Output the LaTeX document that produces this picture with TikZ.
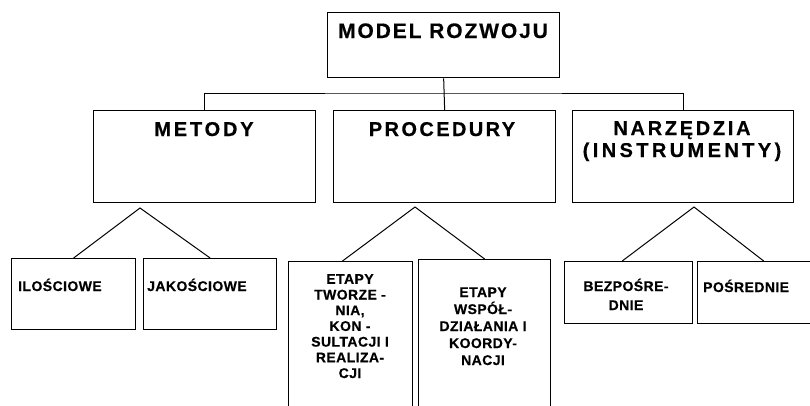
\documentclass[tikz,border=0pt]{standalone}
\usepackage{fontspec}
\setmainfont{Liberation Sans}
\newfontfamily\headfont[LetterSpace=12,FakeBold=0.4]{Liberation Sans Bold}
\newfontfamily\itemfont[LetterSpace=3,FakeBold=0.4]{Liberation Sans Bold}
\usetikzlibrary{calc}
\begin{document}
\begin{tikzpicture}[x=1pt,y=-1pt,
  box/.style={draw=black, line width=1.3pt, rectangle, anchor=north west, inner sep=0pt},
  link/.style={draw=black, line width=1pt},
  head/.style={font=\headfont\fontsize{20}{22}\selectfont, inner sep=0pt, anchor=base, align=center},
  item/.style={font=\itemfont\fontsize{14}{15.7}\selectfont, inner sep=0pt, anchor=base, align=center}
]
\clip (0,0) rectangle (810,405);
\fill[white] (0,0) rectangle (810,405);

% boxes
\node[box, minimum width=232pt, minimum height=65pt] (top) at (327,12) {};
\node[box, minimum width=222pt, minimum height=92pt] (metody) at (93,110) {};
\node[box, minimum width=222pt, minimum height=92pt] (proc) at (333,110) {};
\node[box, minimum width=221pt, minimum height=92pt] (narz) at (572,110) {};
\node[box, minimum width=124pt, minimum height=71pt] (ilo) at (11,258) {};
\node[box, minimum width=133pt, minimum height=71pt] (jako) at (143,258) {};
\node[box, minimum width=124pt, minimum height=160pt] (etw) at (288,261) {};
\node[box, minimum width=132pt, minimum height=162pt] (ewsp) at (418,259) {};
\node[box, minimum width=128pt, minimum height=62pt] (bez) at (564,261) {};
\node[box, minimum width=132pt, minimum height=62pt] (pos) at (697,261) {};

% labels (multi-line labels are placed by the baseline of their last line)
\node[head, font=\headfont\addfontfeature{LetterSpace=9}\fontsize{21}{22}\selectfont] (topT) at (443,38) {MODEL ROZWOJU};
\node[head, font=\headfont\addfontfeature{LetterSpace=14}\fontsize{20}{22}\selectfont] (metodyT) at (204,136) {METODY};
\node[head] (procT) at (442,136) {PROCEDURY};
\node[head] (narzT) at (682,157) {{\addfontfeature{LetterSpace=13.5}NARZĘDZIA}\\{\addfontfeature{LetterSpace=17}(INSTRUMENTY)}};
\node[item, anchor=base west] (iloT) at (18,291) {ILOŚCIOWE};
\node[item, anchor=base west] (jakoT) at (147,291) {JAKOŚCIOWE};
\node[item] (etwT) at (350,378) {ETAPY\\TWORZE -\\NIA,\\KON -\\SULTACJI I\\REALIZA-\\CJI};
\node[item, font=\itemfont\fontsize{14}{17}\selectfont] (ewspT) at (483,365) {ETAPY\\WSPÓŁ-\\DZIAŁANIA I\\KOORDY-\\NACJI};
\node[item, font=\itemfont\fontsize{14}{19}\selectfont] (bezT) at (626,310) {BEZPOŚRE-\\DNIE};
\node[item, anchor=base west] (posT) at (703,292) {POŚREDNIE};

% tree connectors
\coordinate (split) at (443,93);
\draw[link] (top.south) -- (proc.north);
\draw[link] (metody.north) |- (split) -| (narz.north);

\coordinate (mApex) at (140,208);
\coordinate (pApex) at (415,207);
\coordinate (nApex) at (694,207);
\draw[link] (ilo.north) -- (mApex) -- (jako.north);
\draw[link] ($(etw.north west)!0.435!(etw.north east)$) -- (pApex) -- (ewsp.north);
\draw[link] ($(bez.north west)!0.45!(bez.north east)$) -- (nApex) -- (pos.north);
\end{tikzpicture}
\end{document}
